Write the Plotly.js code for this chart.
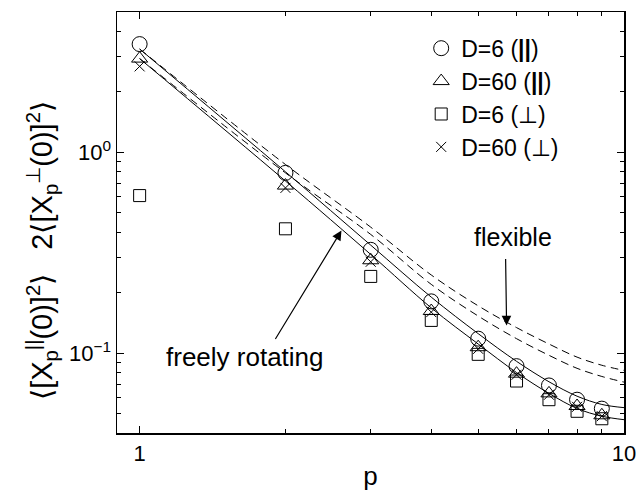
<!DOCTYPE html>
<html>
<head>
<meta charset="utf-8">
<script src="https://cdn.plot.ly/plotly-3.0.1.min.js"></script>
<style>html,body{margin:0;padding:0;background:#fff;}#chart{width:637px;height:491px;}</style>
</head>
<body>
<div id="chart"></div>
<script>
// Mode index p
const pMarkers = [1, 2, 3, 4, 5, 6, 7, 8, 9];
const pLines = [1, 2, 3, 4, 5, 6, 7, 8, 9, 10];

// Simulation data
const d6Par  = [3.46, 0.79, 0.327, 0.181, 0.118, 0.0861, 0.069, 0.0586, 0.0529];
const d60Par = [2.93, 0.683, 0.29, 0.162, 0.107, 0.079, 0.063, 0.0545, 0.049];
const d6Perp = [0.609, 0.416, 0.241, 0.1455, 0.0986, 0.0726, 0.0586, 0.0513, 0.0471];
const d60Perp= [2.68, 0.665, 0.285, 0.16, 0.105, 0.078, 0.062, 0.054, 0.0485];

// Theory curves
const freelyRotD6  = [3.27, 0.80, 0.345, 0.19, 0.125, 0.091, 0.072, 0.061, 0.0555, 0.0535];
const freelyRotD60 = [2.93, 0.72, 0.31, 0.168, 0.111, 0.080, 0.063, 0.053, 0.0485, 0.0466];
const flexibleD6   = [3.27, 0.87, 0.424, 0.245, 0.172, 0.134, 0.111, 0.0955, 0.087, 0.082];
const flexibleD60  = [2.93, 0.79, 0.39, 0.22, 0.153, 0.118, 0.0975, 0.084, 0.0765, 0.0717];

const legendNames = ['D=6 (<b>||</b>)', 'D=60 (<b>||</b>)', 'D=6 (\u22A5)', 'D=60 (\u22A5)'];
const yTickVals = [0.1, 1];
const yTickText = ['10<sup>\u22121</sup>', '10<sup>0</sup>'];

const FONT = 'Liberation Sans, Arial, Helvetica, sans-serif';
const X_RANGE = [Math.log10(0.898), 1];
const Y_RANGE = [Math.log10(0.04), Math.log10(5)];

function lineTrace(y, dash) {
  return {x: pLines, y: y, mode: 'lines', type: 'scatter', showlegend: false, hoverinfo: 'skip',
          line: {color: '#000', width: 1, dash: dash, shape: 'spline', smoothing: 1}};
}
function markerTrace(y, name, symbol, size) {
  return {x: pMarkers, y: y, mode: 'markers', type: 'scatter', name: name,
          marker: {symbol: symbol, size: size, color: '#000', line: {color: '#000', width: 1}}};
}

const traces = [
  lineTrace(freelyRotD6, 'solid'),
  lineTrace(freelyRotD60, 'solid'),
  lineTrace(flexibleD6, '8px,5px'),
  lineTrace(flexibleD60, '8px,5px'),
  markerTrace(d6Par, legendNames[0], 'circle-open', 15),
  markerTrace(d60Par, legendNames[1], 'triangle-up-open', 14),
  markerTrace(d6Perp, legendNames[2], 'square-open', 12),
  markerTrace(d60Perp, legendNames[3], 'x-thin-open', 10)
];

const layout = {
  width: 637, height: 491,
  margin: {l: 117, r: 13, t: 12, b: 58},
  paper_bgcolor: '#fff', plot_bgcolor: '#fff',
  font: {family: FONT, color: '#000', size: 22},
  showlegend: true,
  legend: {x: 0.6, y: 0.965, xanchor: 'left', yanchor: 'top', bgcolor: 'rgba(0,0,0,0)',
           font: {size: 23, family: FONT}, itemwidth: 30, tracegroupgap: 0},
  xaxis: {
    type: 'log', range: X_RANGE, dtick: 1,
    ticks: 'inside', ticklen: 7, tickwidth: 1.2, tickcolor: '#000',
    showline: true, linecolor: '#000', linewidth: 1.5, mirror: 'ticks',
    showgrid: false, zeroline: false,
    tickfont: {size: 22},
    minor: {dtick: 'D1', ticks: 'inside', ticklen: 4, tickwidth: 1, tickcolor: '#000', showgrid: false},
    title: {text: 'p', font: {size: 26}, standoff: 8}
  },
  yaxis: {
    type: 'log', range: Y_RANGE,
    tickmode: 'array', tickvals: yTickVals, ticktext: yTickText,
    ticks: 'inside', ticklen: 7, tickwidth: 1.2, tickcolor: '#000',
    showline: true, linecolor: '#000', linewidth: 1.5, mirror: 'ticks',
    showgrid: false, zeroline: false,
    tickfont: {size: 22},
    minor: {dtick: 'D1', ticks: 'inside', ticklen: 4, tickwidth: 1, tickcolor: '#000', showgrid: false}
  },
  annotations: [
    {xref: 'paper', yref: 'paper', x: -0.148, y: 0.435, xanchor: 'center', yanchor: 'middle',
     textangle: -90, showarrow: false, font: {size: 29},
     text: '\u27E8[X<sub>p</sub><sup>||</sup>(0)]<sup>2</sup>\u27E9   2\u27E8[X<sub>p</sub><sup>\u22A5</sup>(0)]<sup>2</sup>\u27E9'},
    {xref: 'paper', yref: 'paper', x: 0.781, y: 0.4656, xanchor: 'center', yanchor: 'middle',
     showarrow: false, text: 'flexible', font: {size: 25}},
    {xref: 'paper', yref: 'paper', x: 0.2525, y: 0.1805, xanchor: 'center', yanchor: 'middle',
     showarrow: false, text: 'freely rotating', font: {size: 26}},
    {xref: 'x', yref: 'y', x: 0.7576, y: -0.862, text: '', showarrow: true,
     ax: -1, ay: -68, arrowhead: 2, arrowsize: 1.6, arrowwidth: 1.2, arrowcolor: '#000'},
    {xref: 'x', yref: 'y', x: 0.4167, y: -0.3896, text: '', showarrow: true,
     ax: -67, ay: 110, arrowhead: 2, arrowsize: 1.6, arrowwidth: 1.2, arrowcolor: '#000'}
  ]
};

Plotly.newPlot('chart', traces, layout, {displayModeBar: false, staticPlot: true});
</script>
</body>
</html>
